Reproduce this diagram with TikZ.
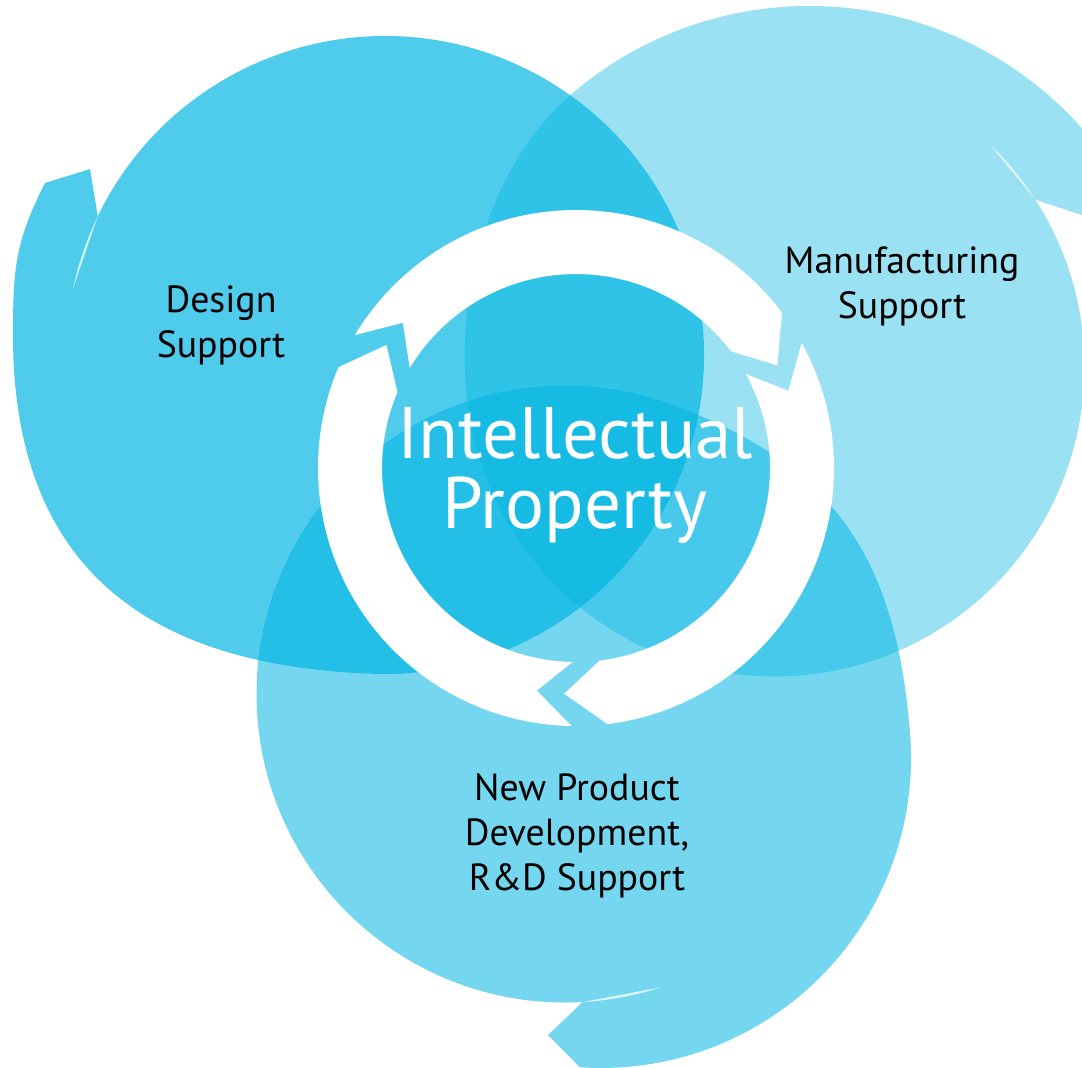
\documentclass[tikz,border=0pt]{standalone}
\usepackage{fontspec}
\setmainfont{PT Sans}
\usetikzlibrary{calc}
\definecolor{ipcyan}{RGB}{0,181,226}

\begin{document}
\begin{tikzpicture}[x=0.5pt,y=0.5pt,
        blob/.style={fill=ipcyan},
        sliver/.style={fill=white,opacity=0.75},
        ringarrow/.style={fill=white},
        lbl/.style={align=center,text=black,font=\fontsize{18.9}{22.5}\selectfont},
        iptext/.style={align=center,text=white,font=\fontsize{36.5}{35}\selectfont}]
        \useasboundingbox (0,0) rectangle (1082,-1067);
        \clip (0,0) rectangle (1082,-1067);

        \coordinate (designc) at (385,-355);
        \coordinate (manufc) at (775,-367);
        \coordinate (npdc) at (565,-694);
        \coordinate (ringc) at (576,-468);

        \fill[blob,opacity=0.69] ($(designc)+(154.2:319)$) arc[start angle=154.2,end angle=-92,radius=319]
            .. controls (144,-666) and (13,-565) .. (13,-335)
            .. controls (13,-269) and (15,-242) .. (45,-183)
            -- (90,-169) -- cycle;
        \fill[blob,opacity=0.40] ($(manufc)+(32.7:309.5)$) arc[start angle=32.7,end angle=-165,radius=309.5]
            .. controls (445,-331) and (478,-178) .. (567,-98)
            arc[start angle=131.6,end angle=36.1,radius=365]
            -- (1085,-216) -- cycle;
        \fill[blob,opacity=0.54] ($(npdc)+(-86.7:308.5)$) arc[start angle=-86.7,end angle=-290,radius=308.5]
            .. controls (835,-464) and (896.5,-559.5) .. (910.1,-734.2)
            arc[start angle=4.4,end angle=-93.9,radius=310]
            -- (548,-1035) -- cycle;

        \fill[sliver] ($(designc)+(154.2:319)$) arc[start angle=154.2,end angle=168,radius=319] -- cycle;
        \fill[sliver] ($(manufc)+(32.7:309.5)$) arc[start angle=32.7,end angle=46,radius=309.5] -- cycle;
        \fill[sliver] ($(npdc)+(-86.7:308.5)$) arc[start angle=-86.7,end angle=-72,radius=308.5] -- cycle;

        \begin{scope}[shift={(ringc)}]
            \foreach \a in {150,30,-90}{
                \pgfmathsetmacro\ta{\a-1}
                \pgfmathsetmacro\tv{\a-10}
                \pgfmathsetmacro\hc{\a-113}
                \pgfmathsetmacro\hv{\a-123}
                \fill[ringarrow] (\ta:258) -- (\tv:226) -- (\ta:194) arc[start angle=\ta,end angle=\hc,radius=194]
                    -- (\hv:226) -- (\hc:258) arc[start angle=\hc,end angle=\ta,radius=258] -- cycle;
            }
        \end{scope}

        \node[iptext] (ip) at (575,-475) {Intellectual\\Property};
        \node[lbl] (design) at (221,-325.6) {Design\\Support};
        \node[lbl] (manufacturing) at (902,-286) {Manufacturing\\Support};
        \node[lbl] (npd) at (577,-836) {New Product\\Development,\\R\&D Support};
\end{tikzpicture}
\end{document}
